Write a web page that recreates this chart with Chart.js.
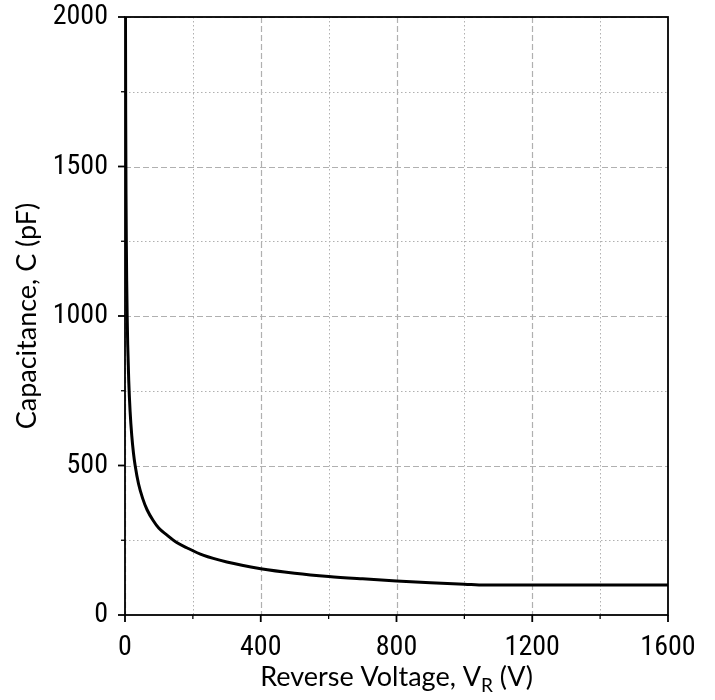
<!DOCTYPE html>
<html><head><meta charset="utf-8">
<script src="https://cdn.jsdelivr.net/npm/chart.js@4/dist/chart.umd.min.js"></script>
<style>html,body{margin:0;padding:0;background:#fff}#wrap{width:715px;height:700px;position:relative}</style>
</head><body><div id="wrap"><canvas id="c"></canvas></div>
<script>
// Data
const voltage = [0, 1.4, 2, 3, 4, 5, 6.4, 8, 11, 15, 20, 25, 30, 40, 52, 65, 83, 100, 123, 150, 182, 230, 300, 400, 500, 600, 700, 800, 900, 1000, 1060, 1200, 1400, 1600];
const capacitance = [2000, 2000, 1690, 1405, 1235, 1117, 1000, 904, 784, 682, 599, 541, 499, 438, 390, 352, 316, 290, 268, 244, 225, 200, 177, 155, 140, 129, 121, 114, 108, 103, 100, 100, 100, 100];
const xMajorTicks = [0, 400, 800, 1200, 1600];
const xMinorTicks = [200, 600, 1000, 1400];
const yMajorTicks = [0, 500, 1000, 1500, 2000];
const yMinorTicks = [250, 750, 1250, 1750];
const xTitleMain = 'Reverse Voltage, V';
const xTitleSub = 'R';
const xTitleTail = ' (V)';
const yTitleText = 'Capacitance, C (pF)';

const tickFont = '"Liberation Sans Narrow", "Roboto Condensed", "DejaVu Sans Condensed", sans-serif';
const titleFont = 'Lato, "Open Sans", sans-serif';

const decorPlugin = {
  id: 'decor',
  beforeDatasetsDraw(chart) {
    const {ctx, chartArea: a, scales: {x, y}} = chart;
    ctx.save();
    ctx.beginPath(); ctx.rect(a.left, a.top, a.right - a.left, a.bottom - a.top); ctx.clip();
    ctx.strokeStyle = '#b0b0b0';
    ctx.lineWidth = 1; ctx.setLineDash([1.5, 2.5]);
    xMinorTicks.forEach(v => { const p = Math.round(x.getPixelForValue(v)) + 0.5; ctx.beginPath(); ctx.moveTo(p, a.top); ctx.lineTo(p, a.bottom); ctx.stroke(); });
    yMinorTicks.forEach(v => { const p = Math.round(y.getPixelForValue(v)) + 0.5; ctx.beginPath(); ctx.moveTo(a.left, p); ctx.lineTo(a.right, p); ctx.stroke(); });
    ctx.lineWidth = 1.2; ctx.setLineDash([6, 3]);
    xMajorTicks.forEach(v => { const p = Math.round(x.getPixelForValue(v)) + 0.5; ctx.beginPath(); ctx.moveTo(p, a.top); ctx.lineTo(p, a.bottom); ctx.stroke(); });
    yMajorTicks.forEach(v => { const p = Math.round(y.getPixelForValue(v)) + 0.5; ctx.beginPath(); ctx.moveTo(a.left, p); ctx.lineTo(a.right, p); ctx.stroke(); });
    ctx.restore();
  },
  afterDatasetsDraw(chart) {
    const {ctx, chartArea: a, scales: {x, y}} = chart;
    ctx.save();
    ctx.setLineDash([]);
    ctx.strokeStyle = '#000';
    ctx.lineWidth = 1.8;
    ctx.strokeRect(a.left, a.top, a.right - a.left, a.bottom - a.top);
    ctx.lineWidth = 1.8;
    xMajorTicks.forEach(v => { const p = x.getPixelForValue(v); ctx.beginPath(); ctx.moveTo(p, a.bottom); ctx.lineTo(p, a.bottom + 7); ctx.stroke(); });
    yMajorTicks.forEach(v => { const p = y.getPixelForValue(v); ctx.beginPath(); ctx.moveTo(a.left, p); ctx.lineTo(a.left - 7, p); ctx.stroke(); });
    ctx.lineWidth = 1.3;
    xMinorTicks.forEach(v => { const p = x.getPixelForValue(v); ctx.beginPath(); ctx.moveTo(p, a.bottom); ctx.lineTo(p, a.bottom + 4); ctx.stroke(); });
    yMinorTicks.forEach(v => { const p = y.getPixelForValue(v); ctx.beginPath(); ctx.moveTo(a.left, p); ctx.lineTo(a.left - 4, p); ctx.stroke(); });
    ctx.fillStyle = '#000';
    ctx.textBaseline = 'alphabetic';
    const big = '27px ' + titleFont, small = '19px ' + titleFont;
    ctx.font = big; const w1 = ctx.measureText(xTitleMain).width; const w3 = ctx.measureText(xTitleTail).width;
    ctx.font = small; const w2 = ctx.measureText(xTitleSub).width;
    const cx = (a.left + a.right) / 2; let sx = cx - (w1 + w2 + w3) / 2; const by = 686;
    ctx.textAlign = 'left';
    ctx.font = big; ctx.fillText(xTitleMain, sx, by); sx += w1;
    ctx.font = small; ctx.fillText(xTitleSub, sx, by + 6); sx += w2;
    ctx.font = big; ctx.fillText(xTitleTail, sx, by);
    ctx.translate(36, (a.top + a.bottom) / 2);
    ctx.rotate(-Math.PI / 2);
    ctx.textAlign = 'center';
    ctx.font = big;
    ctx.fillText(yTitleText, 0, 0);
    ctx.restore();
  }
};

new Chart(document.getElementById('c'), {
  type: 'line',
  data: {
    datasets: [{
      data: voltage.map((v, i) => ({x: v, y: capacitance[i]})),
      borderColor: '#000',
      borderWidth: 3,
      pointRadius: 0,
      fill: false,
      cubicInterpolationMode: 'monotone'
    }]
  },
  options: {
    responsive: true,
    maintainAspectRatio: false,
    animation: false,
    devicePixelRatio: 1,
    layout: {padding: {left: 0, top: 17, right: 47, bottom: 0}},
    plugins: {legend: {display: false}, tooltip: {enabled: false}},
    scales: {
      x: {
        type: 'linear', min: 0, max: 1600,
        grid: {display: false, drawTicks: false},
        border: {display: false},
        afterFit: s => { s.height = 85; s.paddingLeft = 0; s.paddingRight = 0; },
        afterBuildTicks: s => { s.ticks = xMajorTicks.map(v => ({value: v})); },
        ticks: {color: '#000', padding: 16, maxRotation: 0, autoSkip: false, font: {family: tickFont, size: 28}, callback: v => String(v)}
      },
      y: {
        type: 'linear', min: 0, max: 2000,
        grid: {display: false, drawTicks: false},
        border: {display: false},
        afterFit: s => { s.width = 125; s.paddingTop = 0; s.paddingBottom = 0; },
        afterBuildTicks: s => { s.ticks = yMajorTicks.map(v => ({value: v})); },
        ticks: {color: '#000', padding: 17, autoSkip: false, font: {family: tickFont, size: 28}, callback: v => String(v)}
      }
    }
  },
  plugins: [decorPlugin]
});
</script>
</body></html>
